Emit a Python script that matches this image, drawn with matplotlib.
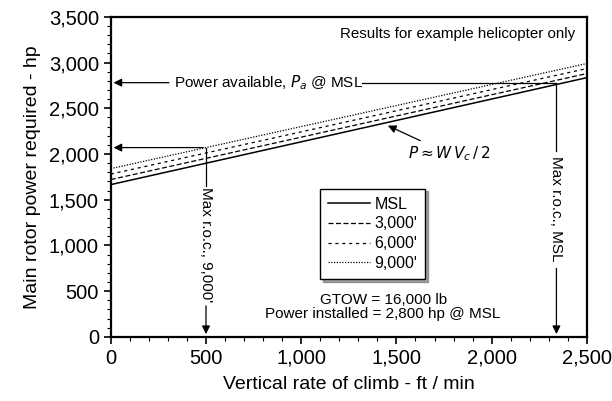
import matplotlib
matplotlib.use("Agg")
import matplotlib.pyplot as plt
from matplotlib.ticker import MultipleLocator, FuncFormatter

plt.rcParams['font.family'] = ['Liberation Sans', 'DejaVu Sans']

# rate of climb (ft/min) and power required (hp) for each altitude
climb = [0, 2500]
p_msl = [1665, 2835]
p_3000 = [1720, 2880]
p_6000 = [1780, 2935]
p_9000 = [1840, 2990]

labels = ["MSL", "3,000'", "6,000'", "9,000'"]

p_avail_msl = 2780
p_avail_9000 = 2070
roc_msl = 2340
roc_9000 = 500

fig = plt.figure(figsize=(6.12, 4.01), dpi=100)
ax = fig.add_axes([0.181, 0.160, 0.778, 0.798])

ax.plot(climb, p_msl, color='black', lw=1.1, linestyle='-', label=labels[0])
ax.plot(climb, p_3000, color='black', lw=0.9, linestyle=(0, (4, 2)), label=labels[1])
ax.plot(climb, p_6000, color='black', lw=0.9, linestyle=(0, (2.5, 3)), label=labels[2])
ax.plot(climb, p_9000, color='black', lw=0.9, linestyle=(0, (1, 1.2)), label=labels[3])

ax.set_xlim(0, 2500)
ax.set_ylim(0, 3500)
ax.xaxis.set_major_locator(MultipleLocator(500))
ax.xaxis.set_minor_locator(MultipleLocator(100))
ax.yaxis.set_major_locator(MultipleLocator(500))
ax.yaxis.set_minor_locator(MultipleLocator(100))
fmt = FuncFormatter(lambda v, p: f"{int(v):,}")
ax.xaxis.set_major_formatter(fmt)
ax.yaxis.set_major_formatter(fmt)
ax.tick_params(which='major', direction='out', length=5, width=1.2, labelsize=14.5)
ax.tick_params(which='minor', direction='out', length=3, width=0.8)
for s in ax.spines.values():
    s.set_linewidth(1.6)

ax.set_xlabel("Vertical rate of climb - ft / min", fontsize=14, labelpad=6)
ax.set_ylabel("Main rotor power required - hp", fontsize=14, labelpad=6)

arw = dict(arrowstyle='-|>', color='black', lw=0.9, mutation_scale=12)

# power available at MSL
ax.annotate("", xy=(0, p_avail_msl), xytext=(320, p_avail_msl), arrowprops=arw)
ax.text(330, p_avail_msl, "Power available, $P_a$ @ MSL", fontsize=11,
        va='center', ha='left')
ax.plot([1320, roc_msl], [p_avail_msl, p_avail_msl], color='black', lw=0.9)

# max r.o.c. at MSL
ax.plot([roc_msl, roc_msl], [p_avail_msl, 2030], color='black', lw=0.9)
ax.text(roc_msl, 1400, "Max r.o.c., MSL", rotation=270, fontsize=11,
        ha='center', va='center')
ax.annotate("", xy=(roc_msl, 0), xytext=(roc_msl, 780), arrowprops=arw)

# power available at 9,000'
ax.annotate("", xy=(0, p_avail_9000), xytext=(roc_9000, p_avail_9000), arrowprops=arw)
ax.plot([roc_9000, roc_9000], [p_avail_9000, 1650], color='black', lw=0.9)
ax.text(roc_9000, 1010, "Max r.o.c., 9,000'", rotation=270, fontsize=11,
        ha='center', va='center')
ax.annotate("", xy=(roc_9000, 0), xytext=(roc_9000, 370), arrowprops=arw)

# P = W Vc / 2
ax.annotate(r"$P \approx W\,V_c\,/\,2$", xy=(1455, 2310), xytext=(1560, 2000),
            fontsize=11, ha='left', va='center',
            arrowprops=dict(arrowstyle='-|>', color='black', lw=0.9,
                            mutation_scale=12, shrinkB=0, shrinkA=2))

ax.text(2440, 3315, "Results for example helicopter only", fontsize=10.9,
        ha='right', va='center')
ax.text(1430, 330, "GTOW = 16,000 lb\nPower installed = 2,800 hp @ MSL",
        fontsize=11, ha='center', va='center', linespacing=1.0)

leg = ax.legend(loc='upper left', bbox_to_anchor=(0.423, 0.488), fontsize=11.5,
                frameon=True, fancybox=False, edgecolor='black',
                handlelength=2.6, handletextpad=0.3, borderpad=0.5,
                labelspacing=0.3, shadow=True)
leg.get_frame().set_linewidth(1.0)

fig.savefig("out.png", dpi=100)
